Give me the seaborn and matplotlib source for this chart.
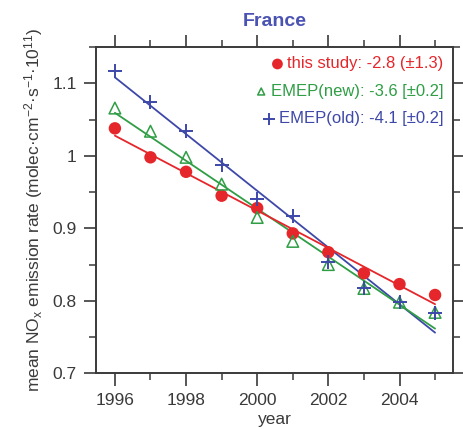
import numpy as np
import pandas as pd
import matplotlib
matplotlib.use("Agg")
import matplotlib.pyplot as plt
import seaborn as sns
from matplotlib.ticker import MultipleLocator

# yearly mean NOx emission rates for France (molec cm-2 s-1 1e11)
years = [1996, 1997, 1998, 1999, 2000, 2001, 2002, 2003, 2004, 2005]
this_study = [1.038, 0.998, 0.978, 0.945, 0.928, 0.893, 0.867, 0.838, 0.823, 0.808]
emep_new = [1.066, 1.034, 0.998, 0.961, 0.915, 0.882, 0.850, 0.817, 0.798, 0.784]
emep_old = [1.117, 1.075, 1.035, 0.987, 0.940, 0.917, 0.853, 0.817, 0.798, 0.783]

series_labels = ["this study: -2.8 (\u00b11.3)",
                 "EMEP(new): -3.6 [\u00b10.2]",
                 "EMEP(old): -4.1 [\u00b10.2]"]

sns.set_style("ticks")
plt.rcParams['font.family'] = ['Liberation Sans', 'DejaVu Sans']
plt.rcParams['mathtext.fontset'] = 'custom'
plt.rcParams['mathtext.rm'] = 'Liberation Sans'
plt.rcParams['mathtext.it'] = 'Liberation Sans:italic'

df = pd.DataFrame({"year": years, "this": this_study,
                   "new": emep_new, "old": emep_old})

red = "#e5262b"
green = "#2f9e45"
blue = "#3d48a8"
dark = "#3a3a3a"

fig, ax = plt.subplots(figsize=(4.64, 4.29), dpi=100)
fig.subplots_adjust(left=0.207, right=0.976, bottom=0.13, top=0.89)

# regression lines first, markers on top
for col, c in [("old", blue), ("new", green), ("this", red)]:
    sns.regplot(data=df, x="year", y=col, ax=ax, ci=None, scatter=False,
                color=c, line_kws={"lw": 1.3})

sns.scatterplot(data=df, x="year", y="this", ax=ax, color=red, s=80,
                marker="o", edgecolor="none", zorder=4, label=series_labels[0])
sns.scatterplot(data=df, x="year", y="new", ax=ax, facecolor="none",
                edgecolor=green, s=70, marker="^", linewidth=1.1, zorder=4,
                label=series_labels[1])
sns.scatterplot(data=df, x="year", y="old", ax=ax, color=blue, s=110,
                marker="+", linewidth=1.4, zorder=4, label=series_labels[2])

ax.set_xlim(1995.47, 2005.5)
ax.set_ylim(0.7, 1.15)
ax.xaxis.set_major_locator(MultipleLocator(2))
ax.xaxis.set_minor_locator(MultipleLocator(1))
ax.yaxis.set_major_locator(MultipleLocator(0.1))
ax.yaxis.set_minor_locator(MultipleLocator(0.05))
ax.set_yticks([0.7, 0.8, 0.9, 1.0, 1.1], ["0.7", "0.8", "0.9", "1", "1.1"])

ax.tick_params(which="both", direction="out", top=True, right=True,
               color=dark, labelcolor=dark, labelsize=12.5, pad=5)
ax.tick_params(which="major", length=9, width=1.2)
ax.tick_params(which="minor", length=5, width=1.1)
for sp in ax.spines.values():
    sp.set_color(dark)
    sp.set_linewidth(1.4)

ax.set_xlabel("year", fontsize=12.5, color=dark, labelpad=3)
ax.set_ylabel("mean NO$_\\mathrm{x}$ emission rate (molec\u00b7cm$^{-2}$\u00b7s$^{-1}$\u00b710$^{11}$)",
              fontsize=12.5, color=dark, labelpad=5)
ax.set_title("France", fontsize=14, fontweight="bold", color="#4a52b3", pad=15)

leg = ax.legend(loc="upper right", frameon=False, fontsize=12,
                handletextpad=0.15, handlelength=0.9, labelspacing=0.75,
                borderaxespad=0.1, borderpad=0.45)
for txt, c in zip(leg.get_texts(), [red, green, blue]):
    txt.set_color(c)
# right-align the legend rows like the original
for col in leg._legend_handle_box.get_children():
    col.align = "right"
leg.legend_handles[0].set_sizes([60])
leg.legend_handles[1].set_sizes([25])
leg.legend_handles[2].set_sizes([70])

fig.savefig("out.png", dpi=100)
